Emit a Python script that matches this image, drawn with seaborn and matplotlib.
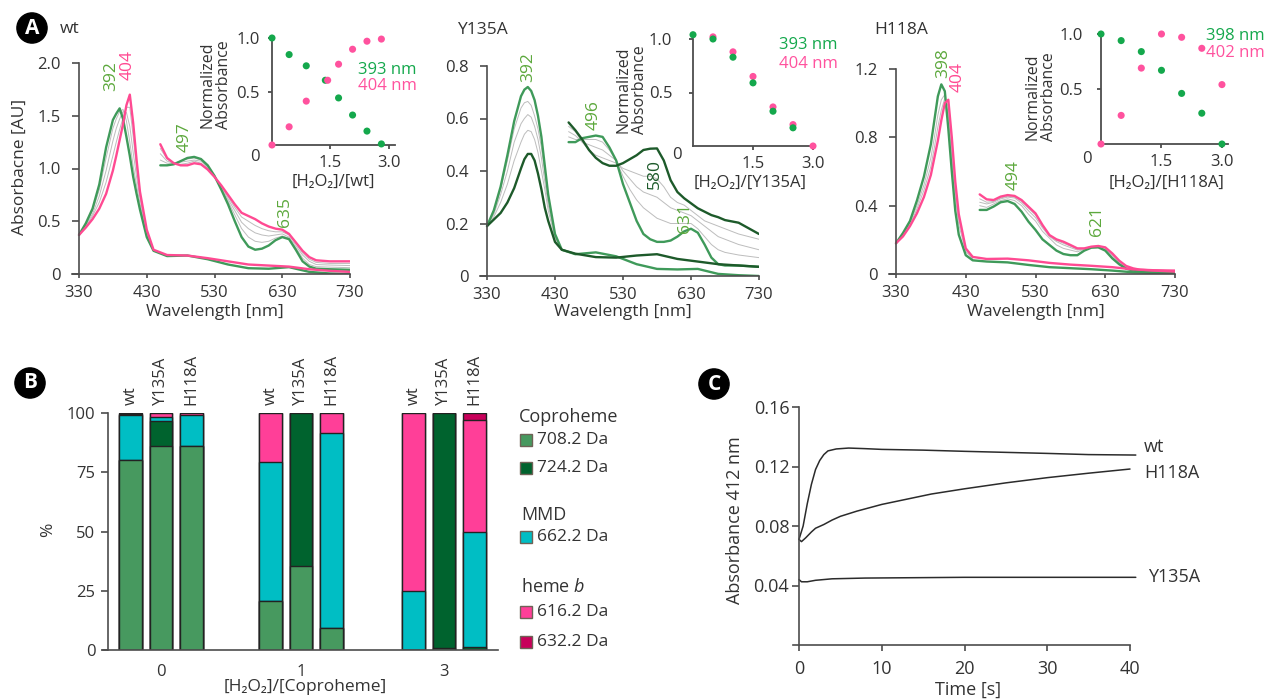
import numpy as np
import pandas as pd
import matplotlib
matplotlib.use('Agg')
import matplotlib.pyplot as plt
import seaborn as sns
from matplotlib.patches import Rectangle

sns.set_style('ticks')
plt.rcParams['font.family'] = ['Open Sans', 'DejaVu Sans']
plt.rcParams['mathtext.fontset'] = 'custom'
plt.rcParams['mathtext.rm'] = 'Open Sans'
plt.rcParams['mathtext.it'] = 'Open Sans:italic'

# ---------------- DATA ----------------
main_wl = [330, 340, 350, 360, 370, 380, 385, 390, 395, 400, 405, 410, 415, 420, 430, 440,
           460, 490, 520, 550, 580, 610, 640, 670, 700, 730]
soret_wl = [330, 340, 350, 360, 370, 380, 385, 390, 395, 400, 405, 410, 415, 420, 430, 440]
zoom_wl = [450, 460, 470, 480, 490, 500, 510, 520, 530, 540, 550, 560, 570, 580, 590, 600,
           610, 620, 630, 640, 650, 660, 670, 680, 700, 730]
wl_ticks = [330, 430, 530, 630, 730]

# wt
wt_first = [.37, .48, .62, .85, 1.20, 1.46, 1.52, 1.57, 1.47, 1.30, 1.12, .92, .76, .61, .35, .22,
            .17, .175, .14, .09, .055, .05, .065, .02, .005, 0.0]
wt_last = [.37, .44, .52, .62, .76, .98, 1.12, 1.27, 1.42, 1.60, 1.70, 1.43, 1.08, .78, .42, .23,
           .18, .175, .15, .12, .09, .08, .07, .045, .03, .02]
wt_sgray1 = [.37, .47, .60, .80, 1.10, 1.38, 1.47, 1.54, 1.56, 1.45, 1.25, 1.02, .84, .67, .37, .22]
wt_sgray2 = [.37, .46, .57, .74, .98, 1.26, 1.38, 1.47, 1.54, 1.53, 1.40, 1.15, .92, .72, .39, .22]
wt_sgray3 = [.37, .45, .55, .68, .87, 1.12, 1.25, 1.37, 1.48, 1.58, 1.58, 1.30, 1.00, .75, .41, .23]
wt_zfirst = [1.03, 1.03, 1.04, 1.07, 1.10, 1.11, 1.09, 1.03, .93, .80, .66, .50, .35, .26, .23, .24,
             .27, .32, .35, .33, .23, .12, .07, .05, .045, .04]
wt_zlast = [1.23, 1.10, 1.05, 1.03, 1.03, 1.05, 1.04, .99, .92, .84, .75, .66, .58, .55, .52, .48,
            .45, .43, .42, .38, .30, .22, .16, .13, .12, .12]
wt_zgray1 = [1.08, 1.05, 1.05, 1.07, 1.09, 1.10, 1.08, 1.02, .93, .81, .69, .56, .43, .35, .31, .30,
             .31, .34, .36, .34, .25, .15, .09, .07, .065, .06]
wt_zgray2 = [1.14, 1.07, 1.05, 1.06, 1.07, 1.08, 1.07, 1.01, .93, .82, .71, .60, .49, .43, .39, .37,
             .36, .37, .38, .35, .27, .18, .12, .09, .085, .08]
wt_zgray3 = [1.19, 1.09, 1.05, 1.04, 1.05, 1.07, 1.05, 1.00, .92, .83, .73, .63, .54, .50, .46, .43,
             .41, .40, .40, .37, .29, .20, .14, .11, .10, .10]

# Y135A
y1_first = [.19, .25, .34, .46, .59, .685, .71, .72, .705, .67, .61, .53, .42, .31, .16, .10,
            .083, .09, .075, .045, .027, .025, .027, .008, .003, 0.0]
y1_last = [.19, .215, .24, .28, .335, .41, .445, .465, .465, .44, .39, .33, .26, .21, .13, .10,
           .085, .072, .07, .078, .083, .065, .055, .045, .04, .035]
y1_sgray1 = [.19, .24, .33, .44, .56, .64, .66, .665, .65, .61, .56, .49, .39, .29, .155, .10]
y1_sgray2 = [.19, .235, .31, .40, .51, .58, .60, .615, .605, .57, .52, .45, .36, .27, .15, .10]
y1_sgray3 = [.19, .225, .28, .35, .44, .51, .54, .555, .55, .52, .47, .40, .33, .25, .145, .10]
y1_zfirst = [.51, .51, .525, .53, .535, .53, .49, .44, .35, .28, .21, .16, .14, .13, .13, .135,
             .15, .17, .18, .165, .12, .07, .045, .04, .04, .035]
y1_zlast = [.585, .555, .52, .48, .45, .43, .42, .42, .43, .445, .46, .48, .485, .486, .44, .365,
            .32, .296, .277, .258, .245, .232, .224, .213, .203, .16]
y1_zgray1 = [.53, .52, .52, .52, .52, .51, .48, .44, .38, .33, .29, .26, .24, .22, .21, .20,
             .20, .20, .20, .18, .15, .12, .10, .09, .08, .07]
y1_zgray2 = [.55, .535, .51, .50, .49, .48, .46, .44, .40, .37, .34, .32, .31, .30, .28, .26,
             .25, .24, .23, .21, .19, .17, .15, .14, .12, .10]
y1_zgray3 = [.57, .55, .51, .48, .46, .45, .44, .43, .41, .40, .39, .38, .38, .37, .34, .30,
             .28, .27, .25, .23, .21, .20, .19, .18, .16, .14]

# H118A
h1_first = [.18, .24, .31, .43, .57, .76, .90, 1.04, 1.11, 1.07, .85, .60, .37, .23, .11, .08,
            .073, .068, .053, .04, .034, .028, .02, .01, .006, .005]
h1_last = [.18, .22, .28, .355, .45, .58, .68, .78, .90, 1.00, 1.02, .80, .54, .35, .15, .10,
           .088, .09, .08, .065, .055, .048, .04, .027, .022, .02]
h1_sgray1 = [.18, .23, .30, .40, .52, .68, .80, .93, 1.02, 1.05, .93, .69, .45, .29, .13, .09]
h1_sgray2 = [.18, .225, .29, .38, .49, .63, .74, .86, .96, 1.03, .98, .74, .49, .32, .14, .095]
h1_zfirst = [.375, .375, .395, .42, .427, .41, .365, .306, .258, .203, .17, .137, .117, .11, .11, .137,
             .154, .156, .137, .092, .057, .031, .02, .015, .012, .01]
h1_zlast = [.466, .437, .433, .453, .462, .457, .433, .394, .355, .287, .228, .203, .189, .17, .15, .15,
            .16, .164, .156, .121, .078, .047, .033, .025, .02, .014]
h1_zgray1 = [.40, .39, .41, .43, .44, .43, .40, .35, .31, .25, .21, .17, .15, .14, .13, .145,
             .157, .16, .145, .10, .065, .037, .025, .02, .015, .012]
h1_zgray2 = [.42, .41, .42, .44, .45, .445, .415, .37, .33, .27, .22, .19, .17, .155, .14, .147,
             .158, .162, .15, .11, .07, .04, .028, .022, .017, .013]
h1_zgray3 = [.44, .42, .425, .445, .455, .45, .425, .385, .345, .28, .225, .197, .18, .163, .145, .15,
             .16, .163, .153, .115, .074, .044, .031, .024, .019, .014]

# insets: normalized absorbance vs [H2O2]/[enzyme]
wt_in_xg = [0, 0.44, 0.88, 1.37, 1.71, 2.07, 2.44, 2.81]
wt_in_g = [1.0, 0.845, 0.74, 0.605, 0.44, 0.28, 0.13, 0.01]
wt_in_xp = [0, 0.44, 0.88, 1.43, 1.71, 2.07, 2.44, 2.81]
wt_in_p = [0.0, 0.17, 0.41, 0.605, 0.755, 0.895, 0.97, 0.99]
y1_in_xg = [0, 0.5, 1.0, 1.5, 2.0, 2.5]
y1_in_g = [1.04, 1.0, 0.83, 0.59, 0.325, 0.17]
y1_in_xp = [0.5, 1.0, 1.5, 2.0, 2.5, 3.0]
y1_in_p = [1.02, 0.88, 0.65, 0.365, 0.2, 0.0]
h1_in_x = [0, 0.5, 1.0, 1.5, 2.0, 2.5, 3.0]
h1_in_g = [1.0, 0.94, 0.84, 0.67, 0.46, 0.28, 0.0]
h1_in_p = [0.0, 0.26, 0.69, 1.0, 0.97, 0.87, 0.54]

# Panel B: MS composition (%)
bar_groups = ['0', '1', '3']
bar_variants = ['wt', 'Y135A', 'H118A']
p708 = [80.3, 86.0, 86.0, 20.5, 35.5, 9.3, 0.0, 1.0, 0.0]
p724 = [0.0, 10.8, 0.0, 0.0, 64.5, 0.0, 0.0, 99.0, 1.2]
p662 = [19.0, 1.5, 13.0, 59.0, 0.0, 82.3, 25.0, 0.0, 48.8]
p616 = [0.4, 1.7, 1.0, 20.5, 0.0, 8.4, 75.0, 0.0, 47.0]
p632 = [0.3, 0.0, 0.0, 0.0, 0.0, 0.0, 0.0, 0.0, 3.0]
species = ['708.2 Da', '724.2 Da', '662.2 Da', '616.2 Da', '632.2 Da']

# Panel C: kinetics at 412 nm
t_wt = [0, 0.5, 1, 1.5, 2, 2.5, 3, 3.5, 4.5, 6, 8, 10, 15, 20, 25, 30, 35, 40.7]
a_wt = [.071, .080, .095, .108, .118, .124, .128, .1305, .1318, .1324, .132, .1315, .131, .1302,
        .1295, .1288, .128, .1277]
t_h1 = [0, 0.3, 0.8, 1.5, 2, 3, 4, 5, 7, 10, 13, 16, 20, 25, 30, 35, 40]
a_h1 = [.071, .0695, .072, .076, .0785, .081, .084, .0865, .090, .0945, .098, .1015, .105, .109,
        .1125, .1155, .1183]
t_y1 = [0, 0.3, 1, 2, 4, 8, 20, 40.7]
a_y1 = [.044, .0425, .0425, .0435, .0445, .045, .0455, .0455]

# ---------------- STYLE ----------------
W, H = 1267, 700
fig = plt.figure(figsize=(W / 100, H / 100), dpi=100)

GREEN = '#3f9a5a'
PINK = '#ff4a92'
DKGREEN = '#1d5a2a'
GRAY = '#bdbdbd'
LBLGREEN = '#5ca83c'
DOTG = '#14a84c'
DOTP = '#ff529e'
AX = '#4d4d4d'
TXT = '#333333'


def px_axes(l, t, r, b):
    return fig.add_axes([l / W, 1 - b / H, (r - l) / W, (b - t) / H])


def ftext(x, y, s, **kw):
    kw.setdefault('color', TXT)
    return fig.text(x / W, 1 - y / H, s, **kw)


def style(ax, lw=1.2):
    for s in ['top', 'right']:
        ax.spines[s].set_visible(False)
    for s in ['left', 'bottom']:
        ax.spines[s].set_color(AX)
        ax.spines[s].set_linewidth(lw)
    ax.tick_params(colors=AX, labelcolor=TXT, width=lw)


def spectrum_panel(box, ymax, yticks, ylabels, first, last, sgrays, zfirst, zlast, zgrays,
                   c_first, c_last):
    l, t, r, b = box
    ax = px_axes(l - 7, t, r, b)
    ext = 7 * 400 / (r - l)
    for g in sgrays:
        sns.lineplot(x=soret_wl, y=g, ax=ax, color=GRAY, lw=0.7)
    for g in zgrays:
        sns.lineplot(x=zoom_wl, y=g, ax=ax, color=GRAY, lw=0.7)
    sns.lineplot(x=main_wl, y=first, ax=ax, color=c_first, lw=1.7)
    sns.lineplot(x=zoom_wl, y=zfirst, ax=ax, color=c_first, lw=1.7)
    sns.lineplot(x=main_wl, y=last, ax=ax, color=c_last, lw=1.7)
    sns.lineplot(x=zoom_wl, y=zlast, ax=ax, color=c_last, lw=1.7)
    ax.set_xlim(330 - ext, 730)
    ax.set_ylim(0, ymax)
    style(ax)
    ax.spines['left'].set_position(('data', 330))
    ax.set_xticks(wl_ticks, [str(v) for v in wl_ticks])
    ax.set_yticks(yticks, ylabels)
    ax.tick_params(axis='y', length=5, pad=8, labelsize=12)
    ax.tick_params(axis='x', length=3, pad=5, labelsize=12)
    ax.set_xlabel('')
    ax.set_ylabel('')
    ftext((l + r) / 2, 312, 'Wavelength [nm]', ha='center', va='center', fontsize=12.5)
    return ax


def inset_panel(l, t, r, b, xmax, xg, yg, xp, yp, ypad, xpad, pink_first=False):
    ax = px_axes(l, t, r, b)
    order = [(xp, yp, DOTP), (xg, yg, DOTG)] if pink_first else [(xg, yg, DOTG), (xp, yp, DOTP)]
    for xs, ys, c in order:
        sns.scatterplot(x=xs, y=ys, ax=ax, color=c, s=26, edgecolor='none', clip_on=False, zorder=3)
    ax.set_xlim(0, xmax)
    ax.set_ylim(0, 1.0)
    style(ax, lw=1.3)
    ax.set_xticks([1.5, 3.0], ['1.5', '3.0'])
    ax.set_yticks([0.5, 1.0], ['0.5', '1.0'])
    ax.tick_params(axis='y', length=3, pad=ypad, labelsize=12)
    ax.tick_params(axis='x', length=3, pad=xpad, labelsize=12)
    ax.set_xlabel('')
    ax.set_ylabel('')
    return ax


def circle_label(x, y, s):
    ftext(x, y, s, color='white', fontsize=15, fontweight='bold', ha='center', va='center',
          bbox=dict(boxstyle='circle,pad=0.22', fc='black', ec='black'))


# ---------------- PANEL A ----------------
circle_label(32, 28, 'A')
ftext(60, 29, 'wt', ha='left', va='center', fontsize=12.5)
ftext(457, 30, 'Y135A', ha='left', va='center', fontsize=12.5)
ftext(874, 30, 'H118A', ha='left', va='center', fontsize=12.5)

spectrum_panel((79, 63, 350, 274), 2.0, [0, 0.5, 1.0, 1.5, 2.0], ['0', '0.5', '1.0', '1.5', '2.0'],
               wt_first, wt_last, [wt_sgray1, wt_sgray2, wt_sgray3],
               wt_zfirst, wt_zlast, [wt_zgray1, wt_zgray2, wt_zgray3], GREEN, PINK)
ftext(20, 167, 'Absorbacne [AU]', rotation=90, ha='center', va='center', fontsize=12.5)

spectrum_panel((487, 66, 759, 276), 0.8, [0, 0.2, 0.4, 0.6, 0.8], ['0', '0.2', '0.4', '0.6', '0.8'],
               y1_first, y1_last, [y1_sgray1, y1_sgray2, y1_sgray3],
               y1_zfirst, y1_zlast, [y1_zgray1, y1_zgray2, y1_zgray3], GREEN, DKGREEN)

spectrum_panel((896, 69, 1175, 274), 1.2, [0, 0.4, 0.8, 1.2], ['0', '0.4', '0.8', '1.2'],
               h1_first, h1_last, [h1_sgray1, h1_sgray2],
               h1_zfirst, h1_zlast, [h1_zgray1, h1_zgray2, h1_zgray3], GREEN, PINK)

# peak labels
for x, y, s, c in [(111, 76, '392', LBLGREEN), (128, 65, '404', PINK), (185, 137, '497', LBLGREEN),
                   (285, 212, '635', LBLGREEN),
                   (528, 67, '392', LBLGREEN), (594, 115, '496', LBLGREEN), (655, 174, '580', DKGREEN),
                   (685, 218, '631', LBLGREEN),
                   (943, 63, '398', LBLGREEN), (958, 77, '404', PINK), (1014, 175, '494', LBLGREEN),
                   (1097, 221, '621', LBLGREEN)]:
    ftext(x, y, s, color=c, rotation=90, ha='center', va='center', fontsize=12.5)

# insets
inset_panel(272, 38, 395, 145, 3.16, wt_in_xg, wt_in_g, wt_in_xp, wt_in_p, 6, 4)
inset_panel(693, 39, 813, 146, 3.0, y1_in_xg, y1_in_g, y1_in_xp, y1_in_p, 12, 4, pink_first=True)
inset_panel(1101, 34, 1228, 144, 3.15, h1_in_x, h1_in_g, h1_in_x, h1_in_p, 10, 4)

for (x0, y0), (xl, yl), (xy, yy), lbl, (lx, ly1, ly2), names in [
        ((255, 157), (333, 182), (216, 85), '[H₂O₂]/[wt]', (358, 70, 86), ('393 nm', '404 nm')),
        ((677, 155), (750, 183), (632, 90), '[H₂O₂]/[Y135A]', (779, 45, 64), ('393 nm', '404 nm')),
        ((1087, 159), (1167, 183), (1041, 97), '[H₂O₂]/[H118A]', (1206, 36, 53), ('398 nm', '402 nm'))]:
    ftext(x0, y0, '0', ha='center', va='center', fontsize=12)
    ftext(xl, yl, lbl, ha='center', va='center', fontsize=12)
    ftext(xy, yy, 'Normalized\nAbsorbance', rotation=90, ha='center', va='center',
          fontsize=11.5, linespacing=1.05)
    ftext(lx, ly1, names[0], color=DOTG, ha='left', va='center', fontsize=12)
    ftext(lx, ly2, names[1], color=DOTP, ha='left', va='center', fontsize=12)

# ---------------- PANEL B ----------------
circle_label(30, 383, 'B')
axB = px_axes(103, 413, 498, 650)
unit = 30.5
group_center = [(161 - 108) / unit, (301 - 108) / unit, (444 - 108) / unit]
positions = [gc + off for gc in group_center for off in (-1.0, 0.0, 1.0)]
comp = pd.DataFrame({'pos': positions, '708.2 Da': p708, '724.2 Da': p724, '662.2 Da': p662,
                     '616.2 Da': p616, '632.2 Da': p632})
bar_colors = {'708.2 Da': '#47995f', '724.2 Da': '#00632e', '662.2 Da': '#00bec4',
              '616.2 Da': '#ff3f98', '632.2 Da': '#c8005a'}
cum = comp[species].cumsum(axis=1)
for sp in reversed(species):
    sns.barplot(x=comp['pos'], y=cum[sp], native_scale=True, orient='x', width=0.75,
                color=bar_colors[sp], saturation=1, edgecolor='#222222', linewidth=1.0,
                errorbar=None, ax=axB)
axB.set_xlim(-5 / unit, (498 - 108) / unit)
axB.set_ylim(0, 100)
style(axB)
axB.spines['left'].set_position(('data', 0))
axB.set_yticks([0, 25, 50, 75, 100], ['0', '25', '50', '75', '100'])
axB.set_xticks(group_center, bar_groups)
axB.tick_params(axis='y', length=5, pad=4, labelsize=12)
axB.tick_params(axis='x', length=0, pad=10, labelsize=12)
axB.set_xlabel('')
axB.set_ylabel('')
for i, p in enumerate(positions):
    axB.text(p, 103.5, bar_variants[i % 3], rotation=90, ha='center', va='bottom',
             fontsize=12, color=TXT, clip_on=False)
ftext(48, 530, '%', rotation=90, ha='center', va='center', fontsize=12.5)
ftext(305, 687, '[H₂O₂]/[Coproheme]', ha='center', va='center', fontsize=12.5)

# legend
ftext(519, 417, 'Coproheme', ha='left', va='center', fontsize=13)
ftext(521, 515, 'MMD', ha='left', va='center', fontsize=13)
ftext(521, 587, 'heme $b$', ha='left', va='center', fontsize=13)
for sp, y in zip(species, [440, 468, 537, 612, 642]):
    fig.add_artist(Rectangle((520 / W, 1 - (y + 6) / H), 12 / W, 12 / H, transform=fig.transFigure,
                             fc=bar_colors[sp], ec='#6e6256', lw=1.0))
    ftext(537, y, sp, ha='left', va='center', fontsize=12.5)

# ---------------- PANEL C ----------------
circle_label(714, 384, 'C')
axC = px_axes(793, 407, 1130, 645)
for tt, aa in [(t_wt, a_wt), (t_h1, a_h1), (t_y1, a_y1)]:
    sns.lineplot(x=tt, y=aa, ax=axC, color='#2b2b2b', lw=1.1, clip_on=False)
xl0 = -6 * 40 / (1130 - 799)
axC.set_xlim(xl0, 40)
axC.set_ylim(0, 0.16)
style(axC)
axC.spines['left'].set_position(('data', 0))
axC.set_xticks([0, 10, 20, 30, 40], ['0', '10', '20', '30', '40'])
axC.set_yticks([0.04, 0.08, 0.12, 0.16], ['0.04', '0.08', '0.12', '0.16'])
axC.tick_params(axis='y', length=5, pad=2, labelsize=13)
axC.tick_params(axis='x', length=4, pad=7, labelsize=13)
axC.set_xlabel('')
axC.set_ylabel('')
for s, xx, yy in [('wt', 41.7, 0.133), ('H118A', 41.7, 0.1156), ('Y135A', 42.2, 0.0457)]:
    axC.text(xx, yy, s, ha='left', va='center', fontsize=13, color=TXT, clip_on=False)
ftext(735, 520, 'Absorbance 412 nm', rotation=90, ha='center', va='center', fontsize=13)
ftext(968, 690, 'Time [s]', ha='center', va='center', fontsize=13)

fig.savefig('out.png', dpi=100)
